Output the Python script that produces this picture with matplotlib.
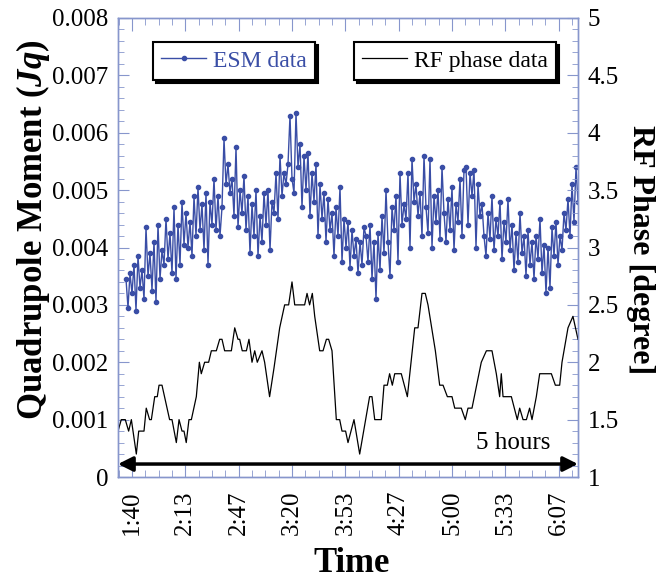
import numpy as np
import matplotlib.pyplot as plt
from matplotlib.ticker import MultipleLocator, FixedLocator

plt.rcParams['font.family'] = 'Liberation Serif'
plt.rcParams['mathtext.fontset'] = 'custom'
plt.rcParams['mathtext.bfit'] = 'Liberation Serif:italic:bold'
plt.rcParams['mathtext.it'] = 'Liberation Serif:italic:bold'

# time in minutes after midnight
tick_pos = [100, 133.33, 166.67, 200, 233.33, 266.67, 300, 333.33, 366.67]
tick_labels = ["1:40", "2:13", "2:47", "3:20", "3:53", "4:27", "5:00", "5:33", "6:07"]

# ESM quadrupole moment (x 1e-3), sampled every 1.25 min from 96.25
esm_start = 96.25
esm_step = 1.25
esm_vals = [
    3.45, 2.95, 3.55, 3.2, 3.7, 2.9, 3.85, 3.3, 3.6, 3.1,
    4.35, 3.5, 3.9, 3.25, 4.1, 3.05, 4.4, 3.45, 3.95, 3.7,
    4.5, 3.8, 4.25, 3.55, 4.7, 3.45, 4.4, 3.7, 4.8, 4.05,
    4.6, 4.0, 4.45, 3.85, 4.9, 4.2, 5.05, 4.3, 4.75, 3.95,
    4.95, 3.7, 4.8, 4.4, 5.2, 4.3, 4.9, 4.2, 4.7, 5.9,
    5.1, 5.45, 4.95, 5.2, 4.55, 5.75, 4.35, 5.0, 4.6, 5.25,
    4.3, 4.9, 3.9, 4.75, 4.2, 5.0, 3.85, 4.55, 4.1, 4.95,
    4.4, 5.0, 3.95, 4.8, 4.6, 5.3, 4.5, 5.6, 4.9, 5.3,
    5.1, 5.45, 6.3, 5.2, 4.95, 6.35, 5.4, 5.8, 4.7, 5.6,
    5.0, 5.65, 4.55, 5.3, 4.8, 5.45, 4.2, 5.1, 4.5, 4.95,
    4.1, 4.85, 4.3, 4.6, 3.85, 4.7, 4.2, 5.05, 3.75, 4.5,
    4.0, 4.45, 3.65, 4.3, 3.85, 4.15, 3.55, 4.1, 3.7, 4.35,
    4.2, 3.75, 4.4, 3.45, 4.1, 3.1, 4.25, 3.6, 4.55, 3.9,
    5.0, 4.1, 3.5, 4.7, 4.3, 4.9, 3.75, 5.3, 4.4, 4.75,
    4.5, 5.3, 4.0, 5.55, 4.8, 5.1, 4.55, 4.95, 4.2, 5.6,
    4.7, 4.25, 5.55, 4.0, 4.9, 4.45, 5.0, 4.15, 5.4, 4.6,
    4.1, 4.85, 4.3, 5.05, 3.95, 4.75, 4.45, 5.2, 4.2, 5.35,
    5.4, 4.4, 5.3, 4.9, 5.35, 4.0, 5.1, 4.55, 4.75, 4.2,
    3.85, 4.6, 4.15, 4.9, 3.95, 4.5, 4.2, 4.8, 3.8, 4.45,
    4.1, 4.85, 3.95, 4.4, 3.6, 4.25, 3.75, 4.6, 3.9, 4.2,
    3.5, 4.3, 3.7, 4.1, 3.45, 4.2, 3.8, 4.5, 3.55, 4.05,
    3.2, 4.0, 3.3, 4.35, 3.85, 4.45, 3.7, 4.2, 3.95, 4.6,
    4.3, 4.85, 4.2, 5.1, 4.45, 5.4, 4.8,
]

# RF phase (degree)
rf_t = [91.25, 93.3, 95.8, 97.9, 99.6, 102.7, 104.2, 107.5, 108.9, 111.0,
        112.1, 114.2, 115.8, 116.9, 118.75, 123.5, 125.0, 127.7, 129.4, 131.25,
        132.5, 133.9, 135.6, 137.1, 140.2, 142.1, 143.3, 145.4, 147.9, 149.6,
        152.7, 154.8, 156.25, 157.9, 162.1, 164.2, 166.25, 167.3, 168.9, 171.5,
        173.1, 175.0, 176.7, 178.3, 181.25, 182.9, 186.0, 188.75, 192.3, 195.4,
        197.9, 200.0, 201.7, 207.9, 209.4, 211.0, 212.7, 214.2, 217.3, 219.4,
        221.5, 222.9, 225.0, 227.7, 229.8, 231.25, 233.5,
        235.0, 238.75, 242.3, 248.5, 250.0, 251.7, 255.8, 257.5, 259.6, 261.0,
        262.7, 264.2, 268.3, 272.1, 276.7, 278.75, 281.25, 283.3, 285.0, 289.6,
        292.3, 294.4, 297.1, 300.0, 301.7, 305.8, 308.3, 310.0, 312.5, 318.3,
        321.5, 325.0, 327.7, 329.8, 330.8, 331.9, 337.1, 340.8, 342.3, 344.4,
        346.5, 348.5, 350.0, 352.7, 354.8, 362.1, 364.6, 367.3, 368.75, 372.5,
        375.6, 378.75]
rf_v = [1.4, 1.5, 1.5, 1.4, 1.5, 1.2, 1.4, 1.4, 1.6, 1.5,
        1.5, 1.7, 1.7, 1.8, 1.8, 1.5, 1.5, 1.3, 1.5, 1.4,
        1.4, 1.3, 1.5, 1.5, 1.7, 2.0, 1.9, 2.0, 2.0, 2.1,
        2.1, 2.2, 2.2, 2.1, 2.1, 2.3, 2.2, 2.2, 2.1, 2.1,
        2.2, 2.0, 2.1, 2.0, 2.1, 2.0, 1.7, 1.95, 2.3, 2.5,
        2.5, 2.7, 2.5, 2.5, 2.6, 2.5, 2.6, 2.4, 2.1, 2.1,
        2.2, 2.2, 2.1, 1.5, 1.5, 1.4, 1.4,
        1.3, 1.5, 1.2, 1.7, 1.7, 1.5, 1.5, 1.8, 1.8, 1.9,
        1.8, 1.9, 1.9, 1.7, 2.3, 2.3, 2.6, 2.6, 2.5, 2.1,
        1.8, 1.8, 1.7, 1.7, 1.6, 1.6, 1.5, 1.6, 1.6, 2.0,
        2.1, 2.1, 1.9, 1.7, 1.9, 1.7, 1.7, 1.5, 1.6, 1.5,
        1.5, 1.6, 1.5, 1.7, 1.9, 1.9, 1.8, 1.8, 2.0, 2.3,
        2.4, 2.2]

blue = '#3a4ea6'
spine_c = '#8796cc'

esm_t = esm_start + esm_step*np.arange(len(esm_vals))
esm = np.array(esm_vals)*1e-3

fig = plt.figure(figsize=(6.57, 5.81), dpi=100)
ax = fig.add_axes([118/657, 1-477/581, 460/657, 459/581])
ax2 = ax.twinx()

l1, = ax.plot(esm_t, esm, '-', color=blue, lw=1.0, marker='o', ms=3,
              mfc=blue, mec=blue, label='ESM data')
l2, = ax2.plot(rf_t, rf_v, '-', color='black', lw=0.9, label='RF phase data')

ax.set_xlim(91.25, 378.75)
ax.set_ylim(0, 0.008)
ax2.set_ylim(1, 5)

ax.xaxis.set_major_locator(FixedLocator(tick_pos))
ax.set_xticklabels(tick_labels, rotation=90)
ax.xaxis.set_minor_locator(MultipleLocator(100/12))
ax.yaxis.set_major_locator(MultipleLocator(0.001))
ax.yaxis.set_minor_locator(MultipleLocator(0.0002))
ax.yaxis.set_major_formatter(plt.FuncFormatter(lambda v, p: '0' if v == 0 else '%.3f' % v))
ax2.yaxis.set_major_locator(MultipleLocator(0.5))
ax2.yaxis.set_minor_locator(MultipleLocator(0.1))
ax2.yaxis.set_major_formatter(plt.FuncFormatter(lambda v, p: '%g' % v))

for a in (ax, ax2):
    for s in a.spines.values():
        s.set_color(spine_c)
        s.set_linewidth(1.0)
ax.tick_params(which='both', direction='in', color=spine_c, top=True, right=False)
ax.tick_params(axis='x', which='major', length=9, labelsize=18, pad=10)
ax.tick_params(axis='x', which='minor', length=5)
ax.tick_params(axis='y', which='major', length=8, labelsize=18, pad=7)
ax.tick_params(axis='y', which='minor', length=4)
ax2.tick_params(which='both', direction='in', color=spine_c)
ax2.tick_params(axis='y', which='major', length=8, labelsize=18, pad=7)
ax2.tick_params(axis='y', which='minor', length=4)

leg_kw = dict(fontsize=17, frameon=True, fancybox=False, numpoints=1,
              handlelength=1.9, handletextpad=0.3, borderpad=0.35, borderaxespad=0,
              shadow={'color': 'black', 'alpha': 1})
leg1 = ax.legend(handles=[l1], loc='upper left', bbox_to_anchor=(0.076, 0.948),
                 labelcolor=blue, **leg_kw)
leg2 = ax2.legend(handles=[l2], loc='upper left', bbox_to_anchor=(0.513, 0.948), **leg_kw)
for lg in (leg1, leg2):
    lg.get_frame().set_edgecolor('black')
    lg.get_frame().set_linewidth(1.5)

ax.annotate('', xy=(378.75, 0.000226), xytext=(91.25, 0.000226),
            arrowprops=dict(arrowstyle='<|-|>', lw=2.5, color='black',
                            mutation_scale=22, shrinkA=0, shrinkB=0),
            annotation_clip=False)
ax.text(361.25, 0.00059, '5 hours', fontsize=18, ha='right', va='center')

fig.text(33/657, 1-230/581, r'Quadrupole Moment ($\mathbfit{Jq}$)', rotation=90,
         fontsize=25, fontweight='bold', ha='center', va='center')
fig.text(641/657, 1-250/581, 'RF Phase [degree]', rotation=270,
         fontsize=23, fontweight='bold', ha='center', va='center')
fig.text(352/657, 1-564/581, 'Time', fontsize=25, fontweight='bold',
         ha='center', va='center')

fig.savefig('out.png', dpi=100)
